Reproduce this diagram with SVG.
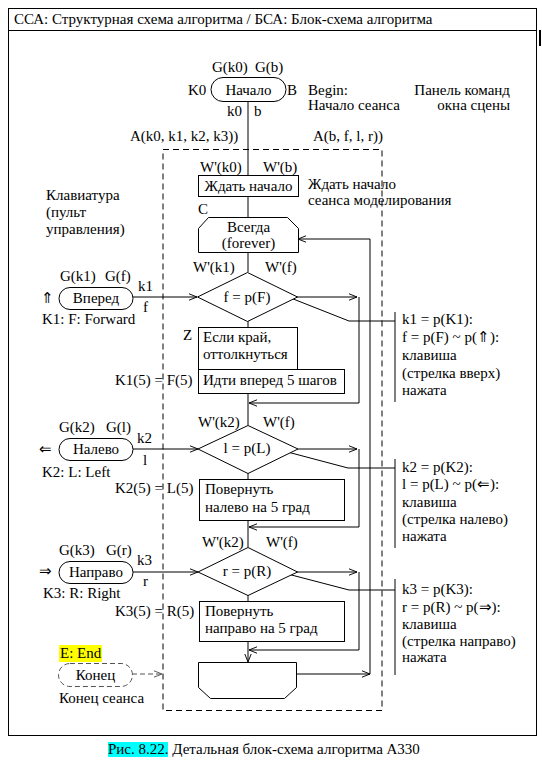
<svg xmlns="http://www.w3.org/2000/svg" width="542" height="774" viewBox="0 0 542 774">
<style>
text{font-family:"Liberation Serif","Times New Roman",serif;font-size:15px;fill:#000}
.m{text-anchor:middle}
.e{text-anchor:end}
.s{fill:#fff;stroke:#000;stroke-width:1}
.l{fill:none;stroke:#000;stroke-width:1}
.a{fill:none;stroke:#000;stroke-width:1;marker-end:url(#arr)}
.d{fill:none;stroke:#000;stroke-width:1;stroke-dasharray:6,4}
</style>
<defs>
<marker id="arr" viewBox="0 0 10 10" refX="10" refY="5" markerWidth="8" markerHeight="8" markerUnits="userSpaceOnUse" orient="auto">
<path d="M0,1 L10,5 L0,9" fill="none" stroke="#000" stroke-width="1.2"/>
</marker>
<marker id="arrg" viewBox="0 0 10 10" refX="10" refY="5" markerWidth="8" markerHeight="8" markerUnits="userSpaceOnUse" orient="auto">
<path d="M0,1 L10,5 L0,9" fill="none" stroke="#555" stroke-width="1.2"/>
</marker>
</defs>
<rect width="542" height="774" fill="#fff"/>
<g id="frame">
<rect x="8.5" y="8.5" width="528" height="727" class="l"/>
<line x1="8.5" y1="30.5" x2="536.5" y2="30.5" class="l"/>
<line x1="540" y1="30" x2="540" y2="46" stroke="#000" stroke-width="2"/>
<text x="14" y="24">ССА: Структурная схема алгоритма / БСА: Блок-схема алгоритма</text>
</g>
<g id="scope">
<rect x="163" y="149.5" width="219" height="561" class="d"/>
<text x="130" y="141">A(k0, k1, k2, k3))</text>
<text x="313" y="141">A(b, f, l, r))</text>
</g>
<g id="connectors">
<line x1="248" y1="102" x2="248" y2="175" class="l"/>
<line x1="248" y1="196" x2="248" y2="217" class="l"/>
<line x1="248" y1="252" x2="248" y2="272" class="l"/>
<line x1="248" y1="321" x2="248" y2="327" class="l"/>
<line x1="248" y1="393" x2="248" y2="425" class="l"/>
<line x1="248" y1="473" x2="248" y2="479" class="l"/>
<line x1="248" y1="520" x2="248" y2="547" class="l"/>
<line x1="248" y1="595" x2="248" y2="601" class="l"/>
<line x1="248" y1="641" x2="248" y2="662" class="a"/>
<line x1="133" y1="297" x2="197" y2="297" class="a"/>
<line x1="133" y1="449" x2="198" y2="449" class="a"/>
<line x1="133" y1="572" x2="198" y2="572" class="a"/>
<line x1="297" y1="297" x2="357" y2="297" class="a"/>
<line x1="298" y1="449" x2="357" y2="449" class="a"/>
<line x1="297" y1="572" x2="357" y2="572" class="a"/>
<polyline points="359,297 359,403 249,403" class="a"/>
<polyline points="359,449 359,527 249,527" class="a"/>
<polyline points="359,572 359,650 249,650" class="a"/>
<line x1="296" y1="674" x2="370" y2="674" class="a"/>
<polyline points="370,674 370,239 298,239" class="a"/>
<polyline points="278,293 349,321 395,321" class="l"/>
<polyline points="280,450 348,468 395,468" class="l"/>
<polyline points="280,572 349,590 395,590" class="l"/>
<line x1="395" y1="312" x2="395" y2="402" class="l"/>
<line x1="395" y1="459" x2="395" y2="548" class="l"/>
<line x1="395" y1="579" x2="395" y2="675" class="l"/>
<line x1="132" y1="674" x2="162" y2="674" fill="none" stroke="#555" stroke-dasharray="5,3" marker-end="url(#arrg)"/>
</g>
<g id="start">
<rect x="211" y="77.5" width="75" height="24" rx="12" class="s"/>
<text x="248.5" y="95" class="m">Начало</text>
<text x="212" y="72">G(k0)</text>
<text x="255" y="72">G(b)</text>
<text x="188" y="95">K0</text>
<text x="287" y="95">B</text>
<text x="227" y="116">k0</text>
<text x="254" y="116">b</text>
<text x="308" y="95">Begin:</text>
<text x="510" y="95" class="e">Панель команд</text>
<text x="308" y="110">Начало сеанса</text>
<text x="510" y="110" class="e">окна сцены</text>
</g>
<g id="wait">
<rect x="198.5" y="175.5" width="100" height="21" class="s"/>
<text x="248.5" y="191" class="m">Ждать начало</text>
<text x="200" y="172">W'(k0)</text>
<text x="263" y="172">W'(b)</text>
<text x="308" y="189">Ждать начало</text>
<text x="308" y="205">сеанса моделирования</text>
</g>
<g id="forever">
<path d="M198.5,252.5 V228.5 L208.5,217.5 H287.5 L298.5,228.5 V252.5 Z" class="s"/>
<text x="198" y="214">C</text>
<text x="248.5" y="232" class="m">Всегда</text>
<text x="248.5" y="248" class="m">(forever)</text>
</g>
<g id="keyboard">
<text x="46" y="200">Клавиатура</text>
<text x="46" y="217">(пульт</text>
<text x="46" y="234">управления)</text>
</g>
<g id="forward">
<rect x="59" y="287.5" width="74" height="22" rx="11" class="s"/>
<text x="96" y="303" class="m">Вперед</text>
<text x="60" y="281">G(k1)</text>
<text x="105" y="281">G(f)</text>
<text x="41" y="303">⇑</text>
<text x="138" y="291">k1</text>
<text x="143" y="312">f</text>
<text x="42" y="324">K1: F: Forward</text>
</g>
<g id="dec1">
<polygon points="247.5,272.5 297.5,297 247.5,321.5 197.5,297" class="s"/>
<text x="247" y="302" class="m">f = p(F)</text>
<text x="193" y="272">W'(k1)</text>
<text x="265" y="272">W'(f)</text>
</g>
<g id="bounce">
<rect x="198.5" y="327.5" width="99" height="42" class="s"/>
<text x="203" y="342">Если край,</text>
<text x="203" y="359">оттолкнуться</text>
<text x="183" y="340">Z</text>
</g>
<g id="move">
<rect x="198.5" y="369.5" width="146" height="24" class="s"/>
<text x="203" y="385">Идти вперед 5 шагов</text>
<text x="115" y="385">K1(5) = F(5)</text>
</g>
<g id="note1">
<text x="402" y="324">k1 = p(K1):</text>
<text x="402" y="342">f = p(F) ~ p(⇑):</text>
<text x="402" y="360">клавиша</text>
<text x="402" y="378">(стрелка вверх)</text>
<text x="402" y="395">нажата</text>
</g>
<g id="left">
<rect x="59" y="438.5" width="74" height="22" rx="11" class="s"/>
<text x="96" y="454" class="m">Налево</text>
<text x="59" y="432">G(k2)</text>
<text x="106" y="432">G(l)</text>
<text x="39" y="454">⇐</text>
<text x="137" y="443">k2</text>
<text x="143" y="465">l</text>
<text x="42" y="477">K2: L: Left</text>
</g>
<g id="dec2">
<polygon points="248,425.5 298,449 248,473.5 198,449" class="s"/>
<text x="247" y="453" class="m">l = p(L)</text>
<text x="198" y="427">W'(k2)</text>
<text x="263" y="427">W'(f)</text>
</g>
<g id="turnleft">
<rect x="199.5" y="479.5" width="145" height="41" class="s"/>
<text x="205" y="494">Повернуть</text>
<text x="205" y="512">налево на 5 град</text>
<text x="115" y="493">K2(5) = L(5)</text>
</g>
<g id="note2">
<text x="402" y="472">k2 = p(K2):</text>
<text x="402" y="489">l = p(L) ~ p(⇐):</text>
<text x="402" y="507">клавиша</text>
<text x="402" y="524">(стрелка налево)</text>
<text x="402" y="541">нажата</text>
</g>
<g id="right">
<rect x="59" y="561.5" width="74" height="22" rx="11" class="s"/>
<text x="96" y="577" class="m">Направо</text>
<text x="59" y="555">G(k3)</text>
<text x="106" y="555">G(r)</text>
<text x="39" y="576">⇒</text>
<text x="137" y="565">k3</text>
<text x="143" y="586">r</text>
<text x="43" y="598">K3: R: Right</text>
</g>
<g id="dec3">
<polygon points="248,547.5 297.5,572 248,595.5 198,572" class="s"/>
<text x="247" y="576" class="m">r = p(R)</text>
<text x="202" y="547">W'(k2)</text>
<text x="266" y="547">W'(f)</text>
</g>
<g id="turnright">
<rect x="199.5" y="601.5" width="145" height="40" class="s"/>
<text x="205" y="616">Повернуть</text>
<text x="205" y="633">направо на 5 град</text>
<text x="115" y="616">K3(5) = R(5)</text>
</g>
<g id="note3">
<text x="402" y="594">k3 = p(K3):</text>
<text x="402" y="612">r = p(R) ~ p(⇒):</text>
<text x="402" y="629">клавиша</text>
<text x="402" y="646">(стрелка направо)</text>
<text x="402" y="662">нажата</text>
</g>
<g id="loopend">
<path d="M198.5,662.5 H296.5 V687.5 L284.5,698.5 H210.5 L198.5,687.5 Z" class="s"/>
</g>
<g id="end">
<rect x="59" y="645" width="43" height="17" fill="#ffff00"/>
<text x="60" y="658">E: End</text>
<rect x="58.5" y="663.5" width="74" height="23" rx="11.5" fill="#fff" stroke="#555" stroke-dasharray="5,3"/>
<text x="95.5" y="680" class="m">Конец</text>
<text x="59" y="703">Конец сеанса</text>
</g>
<g id="caption">
<rect x="108" y="742" width="60" height="15" fill="#00ffff"/>
<text x="108" y="754">Рис. 8.22. Детальная блок-схема алгоритма А330</text>
</g>
</svg>
